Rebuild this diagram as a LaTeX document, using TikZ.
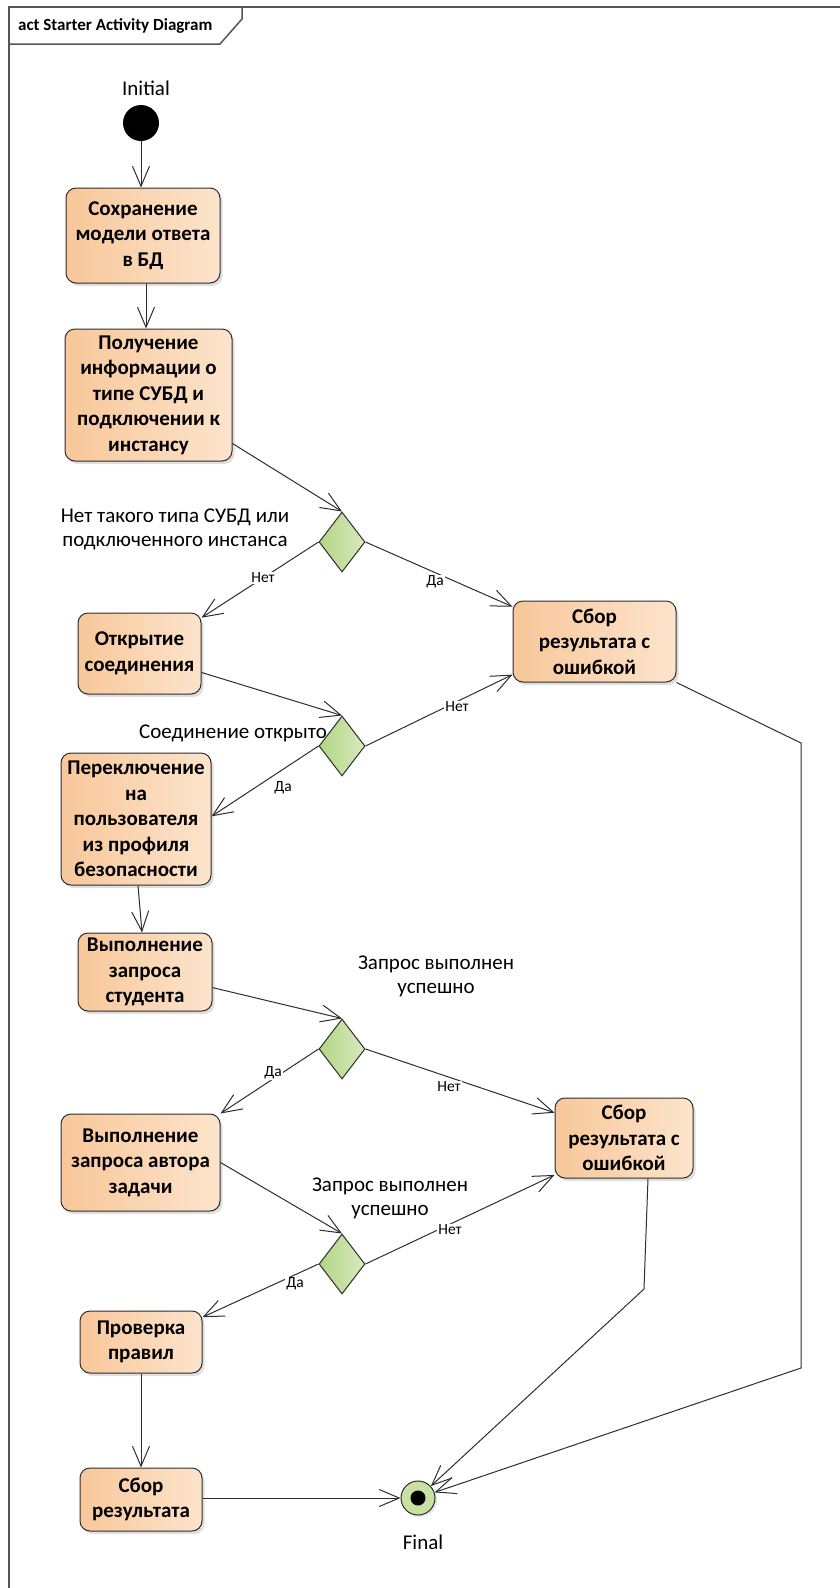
\documentclass[tikz,border=0pt]{standalone}
\usepackage{fontspec}
\setmainfont{Carlito}
\usetikzlibrary{arrows.meta,shapes.geometric,shadows,calc}
\definecolor{boxL}{RGB}{248,199,154}
\definecolor{boxR}{RGB}{252,228,204}
\definecolor{dmL}{RGB}{178,213,132}
\definecolor{dmR}{RGB}{216,234,190}
\definecolor{finG}{RGB}{200,225,160}
\definecolor{ln}{RGB}{45,45,45}
\definecolor{frm}{RGB}{85,85,85}
\begin{document}
\begin{tikzpicture}[x=1pt,y=-1pt,
 act/.style={draw=ln, line width=1pt, rounded corners=10pt, left color=boxL, right color=boxR,
   align=center, font=\fontsize{21}{25.5}\selectfont\bfseries, inner sep=0pt,
   drop shadow={shadow xshift=2.5pt, shadow yshift=-3pt, opacity=0.25}},
 dec/.style={diamond, draw=ln, line width=1pt, left color=dmL, right color=dmR,
   minimum width=46pt, minimum height=60pt, inner sep=0pt},
 flow/.style={draw=ln, line width=1pt, -{Straight Barb[length=20pt,width=17pt]}},
 elab/.style={fill=white, inner sep=1pt, font=\fontsize{15.5}{18}\selectfont},
 dlab/.style={align=center, font=\fontsize{21}{24}\selectfont},
]
\useasboundingbox (0,0) rectangle (840,1588);
% frame
\draw[frm, line width=1.5pt] (9,1588) -- (9,7) -- (840,7);
\draw[frm, line width=1.5pt] (9,44) -- (220,44) -- (242,19) -- (242,7);
\node[anchor=west, font=\fontsize{17}{20}\selectfont\bfseries, inner sep=0pt] (title) at (18,26) {act Starter Activity Diagram};

% initial / final
\node[circle, fill=black, minimum size=36pt, inner sep=0pt] (init) at (141,123) {};
\node[dlab] (initlab) at (146,88) {Initial};
\node[circle, draw=ln, line width=1pt, fill=finG, minimum size=34pt, inner sep=0pt,
  drop shadow={shadow xshift=2pt, shadow yshift=-2pt, opacity=0.2}] (fin) at (418,1498) {};
\fill[black] (fin.center) circle (7.5pt);
\node[dlab] (finlab) at (423,1542) {Final};

% actions
\node[act, minimum width=154pt, minimum height=95pt] (box1) at (143,235.5) {Сохранение\\модели ответа\\в БД};
\node[act, minimum width=167pt, minimum height=132pt] (box2) at (148.5,395) {Получение\\информации о\\типе СУБД и\\подключении к\\инстансу};
\node[act, minimum width=123pt, minimum height=81pt] (box3) at (139.5,653.5) {Открытие\\соединения};
\node[act, minimum width=150pt, minimum height=132pt] (box4) at (136,819) {Переключение\\на\\пользователя\\из профиля\\безопасности};
\node[act, minimum width=134pt, minimum height=78pt] (box5) at (145,972) {Выполнение\\запроса\\студента};
\node[act, minimum width=159pt, minimum height=97pt] (box6) at (140.5,1162.5) {Выполнение\\запроса автора\\задачи};
\node[act, minimum width=122pt, minimum height=62pt] (box7) at (141,1342) {Проверка\\правил};
\node[act, minimum width=122pt, minimum height=63pt] (box8) at (141,1499.5) {Сбор\\результата};
\node[act, minimum width=163pt, minimum height=81pt] (err1) at (594.5,641.5) {Сбор\\результата с\\ошибкой};
\node[act, minimum width=138pt, minimum height=80pt] (err2) at (624,1138) {Сбор\\результата с\\ошибкой};

% decisions
\node[dec] (d1) at (342,542) {};
\node[dec] (d2) at (342,746) {};
\node[dec] (d3) at (342,1049) {};
\node[dec] (d4) at (342,1264) {};

% decision texts
\node[dlab] (d1t) at (175,529) {Нет такого типа СУБД или\\подключенного инстанса};
\node[dlab] (d2t) at (233,733) {Соединение открыто};
\node[dlab] (d3t) at (436,976) {Запрос выполнен\\успешно};
\node[dlab] (d4t) at (390,1198) {Запрос выполнен\\успешно};

% waypoints
\coordinate (c1) at (801,743);
\coordinate (c2) at (801,1368);
\coordinate (c3) at (644,1289);

% flows
\draw[flow] (init) -- (init |- box1.north);
\draw[flow] ($(box1.south)+(3,0)$) -- ($(box2.north)+(-2.5,0)$);
\draw[flow] (box2.-30) -- (d1.north);
\draw[flow] (d1.west) -- (box3.30);
\draw[flow] (d1.east) -- (err1.157);
\draw[flow] (box3.-17) -- (d2.north);
\draw[flow] (d2.east) -- (err1.202);
\draw[flow] (d2.west) -- (box4.2);
\draw[flow] ($(box4.south)+(2,0)$) -- ($(box5.north)+(-3,0)$);
\draw[flow] (box5.-13) -- (d3.north);
\draw[flow] (d3.west) -- (box6.north east);
\draw[flow] (d3.east) -- (err2.160);
\draw[flow] (box6.east) -- (d4.north);
\draw[flow] (d4.east) -- (err2.208);
\draw[flow] (d4.west) -- (box7.22);
\draw[flow] (box7.south) -- (box8.north);
\draw[flow] (box8.east |- fin) -- (fin);
\draw[flow] (err1.south east) -- (c1) -- (c2) -- (fin);
\draw[flow] ($(err2.south)+(24,0)$) -- (c3) -- (fin);

% edge labels
\node[elab] (l1) at (263,578) {Нет};
\node[elab] (l2) at (435,582) {Да};
\node[elab] (l3) at (457,707) {Нет};
\node[elab] (l4) at (283,788) {Да};
\node[elab] (l5) at (273,1073) {Да};
\node[elab] (l6) at (449,1087) {Нет};
\node[elab] (l7) at (450,1230) {Нет};
\node[elab] (l8) at (295,1284) {Да};
\end{tikzpicture}
\end{document}
